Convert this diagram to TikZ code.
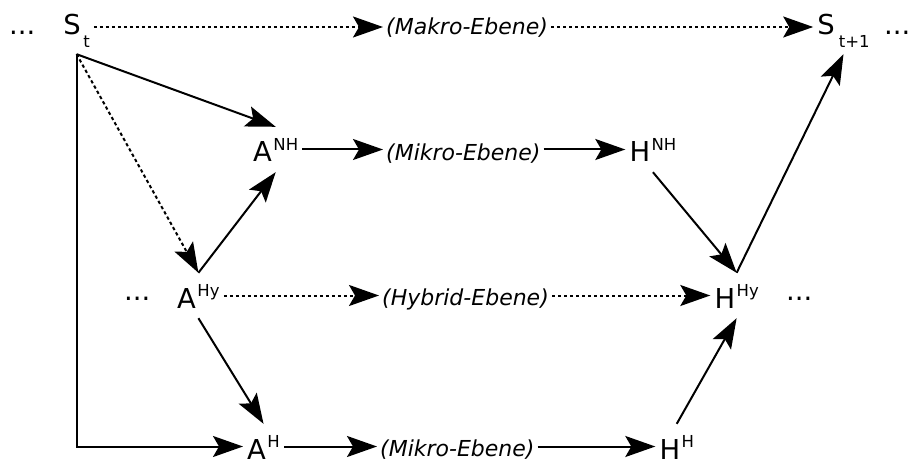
\documentclass[tikz,border=0pt]{standalone}
\usepackage{fontspec}
\setmainfont{DejaVu Sans}
\usetikzlibrary{arrows.meta,calc}
\newcommand\supx[1]{\kern1.5pt\raisebox{11.5pt}{\fontsize{16.5}{18}\selectfont #1}}
\newcommand\subx[2]{\kern#1\raisebox{-13pt}{\fontsize{16.5}{18}\selectfont #2}}
\tikzset{
  mainnode/.style={font=\fontsize{27.4}{30}\selectfont, inner xsep=4pt, inner ysep=10pt,
    text height=25pt, text depth=0pt, anchor=base west},
  snode/.style={mainnode, text height=20pt, text depth=4pt, inner ysep=15pt},
  lab/.style={font=\fontsize{22}{26}\selectfont\itshape, inner xsep=3pt, inner ysep=2pt, anchor=base west},
  dotsnode/.style={font=\fontsize{27.4}{30}\selectfont, inner sep=0pt, anchor=base west},
  arr/.style={-{Stealth[length=30pt,width=21pt,inset=6pt]}, line width=2pt},
  darr/.style={arr, dash pattern=on 3.3pt off 2.7pt},
}
\begin{document}
\begin{tikzpicture}[x=1pt,y=-1pt]
\useasboundingbox (0,0) rectangle (915,462);
% nodes
\node[dotsnode] (l0) at (9,35) {...};
\node[snode] (St) at (59.2,35) {S\subx{2.5pt}{t}};
\node[lab] (Mak) at (383,35) {(Makro-Ebene)};
\node[snode] (Stt) at (813.2,35) {S\subx{4pt}{t+1}};
\node[dotsnode] (r0) at (884,35) {...};

\node[mainnode] (ANH) at (249,162) {A\supx{NH}};
\node[lab] (Mik1) at (383,161) {(Mikro-Ebene)};
\node[mainnode] (HNH) at (625.3,162) {H\supx{NH}};

\node[dotsnode] (l1) at (124,300) {...};
\node[mainnode] (AHy) at (173,308) {A\supx{Hy}};
\node[lab] (Hyb) at (379,305) {(Hybrid-Ebene)};
\node[mainnode] (HHy) at (710.3,308) {H\supx{Hy}};
\node[dotsnode] (r1) at (786,300) {...};

\node[mainnode] (AH) at (243,459) {A\supx{H}};
\node[lab] (Mik2) at (377,456) {(Mikro-Ebene)};
\node[mainnode] (HH) at (655.3,459) {H\supx{H}};

% connectors
\draw[darr] (St.east) -- (St.east -| Mak.west);
\draw[darr] (Mak.east |- Stt.west) -- (Stt.west);
\draw[arr] (St.south) -- (ANH.north);
\draw[darr] (St.south) -- (AHy.north);
\draw[arr] (St.south) |- (AH.west);
\draw[arr] (AHy.north) -- (ANH.south);
\draw[arr] (AHy.south) -- (AH.north);
\draw[arr] (ANH.east) -- (ANH.east -| Mik1.west);
\draw[arr] (Mik1.east |- HNH.west) -- (HNH.west);
\draw[darr] (AHy.east) -- (AHy.east -| Hyb.west);
\draw[darr] (Hyb.east |- HHy.west) -- (HHy.west);
\draw[arr] (AH.east) -- (AH.east -| Mik2.west);
\draw[arr] (Mik2.east |- HH.west) -- (HH.west);
\draw[arr] (HNH.south) -- (HHy.north);
\draw[arr] (HH.north) -- (HHy.south);
\draw[arr] (HHy.north) -- (Stt.south);
\end{tikzpicture}
\end{document}
